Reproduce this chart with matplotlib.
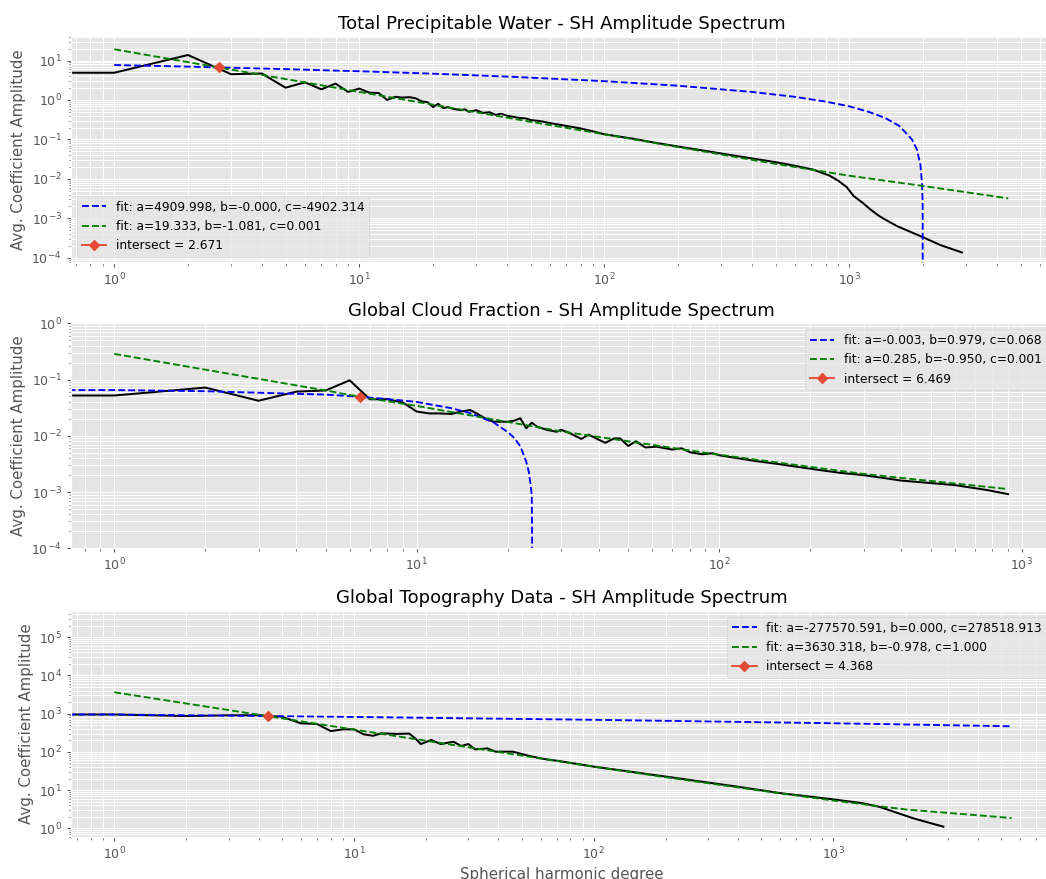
import matplotlib
matplotlib.use("Agg")
import matplotlib.pyplot as plt

plt.style.use("ggplot")

# ---- Total Precipitable Water ----
tpw_deg = [0, 1, 2, 3, 4, 5, 6, 7, 8, 9, 10, 11, 12, 13, 14, 15, 16, 17, 18, 19, 20,
           21, 22, 23, 24, 26, 27, 28, 30, 32, 34, 36, 38, 40, 43, 45, 48, 50, 55, 60,
           70, 80, 90, 100, 130, 160, 200, 250, 300, 400, 500, 600, 710, 830, 900, 975,
           1040, 1140, 1215, 1335, 1560, 2000, 2350, 2880]
tpw_amp = [4.9, 4.9, 13.8, 4.5, 4.7, 2.05, 2.8, 1.86, 2.6, 1.6, 1.95, 1.53, 1.5, 1.0,
           1.2, 1.15, 1.18, 1.1, 0.92, 0.88, 0.66, 0.80, 0.62, 0.66, 0.60, 0.55, 0.58,
           0.50, 0.55, 0.47, 0.49, 0.42, 0.45, 0.40, 0.37, 0.35, 0.34, 0.31, 0.29, 0.26,
           0.22, 0.19, 0.16, 0.135, 0.105, 0.083, 0.066, 0.053, 0.044, 0.033, 0.0265,
           0.0215, 0.0172, 0.0121, 0.0090, 0.0062, 0.0037, 0.0024, 0.0017, 0.0011,
           0.00064, 0.00033, 0.00021, 0.000136]
tpw_fit1_x = [1, 2, 5, 10, 20, 45, 100, 200, 400, 600, 800, 1000, 1200, 1400, 1600,
              1800, 1884, 1950, 1980, 1992, 1996]
tpw_fit1_y = [7.7, 7.0, 6.05, 5.35, 4.65, 3.8, 3.0, 2.3, 1.6, 1.2, 0.91, 0.69, 0.5,
              0.35, 0.22, 0.1, 0.057, 0.023, 0.0075, 0.0025, 1e-7]
tpw_fit2_x = [1, 2, 5, 10, 20, 50, 100, 200, 500, 1000, 2000, 4450]
tpw_fit2_y = [19.3, 9.1, 3.4, 1.6, 0.76, 0.28, 0.135, 0.064, 0.024, 0.012, 0.0066, 0.0032]
tpw_cross = (2.671, 6.75)

# ---- Global Cloud Fraction ----
gcf_deg = [0, 1, 2, 3, 4, 5, 6, 7, 8, 9, 10, 11, 12, 13, 14, 15, 16, 17, 18, 19, 20,
           21, 22, 23, 24, 25, 27, 29, 30, 32, 35, 37, 40, 42, 45, 47, 50, 53, 57, 62,
           70, 75, 80, 88, 95, 100, 130, 160, 200, 250, 300, 400, 600, 765, 900]
gcf_amp = [0.052, 0.052, 0.072, 0.042, 0.061, 0.064, 0.097, 0.0446, 0.0446, 0.039,
           0.027, 0.025, 0.025, 0.0244, 0.027, 0.0288, 0.024, 0.0197, 0.0178, 0.0178,
           0.0178, 0.0186, 0.0205, 0.0136, 0.0171, 0.0145, 0.0127, 0.0118, 0.0128,
           0.0112, 0.0088, 0.0105, 0.0085, 0.0075, 0.0090, 0.0090, 0.0066, 0.0080,
           0.0062, 0.0064, 0.0057, 0.0060, 0.0051, 0.0047, 0.0049, 0.0045, 0.0036,
           0.0031, 0.0026, 0.0022, 0.0020, 0.0016, 0.00133, 0.00109, 0.00092]
gcf_fit1_x = [0, 1, 2, 5, 6.469, 8, 10, 13, 15, 18, 20, 21, 22, 23, 23.5, 24, 24.3]
gcf_fit1_y = [0.068, 0.065, 0.062, 0.054, 0.0495, 0.045, 0.040, 0.031, 0.0254, 0.0171,
              0.0116, 0.0092, 0.0065, 0.0035, 0.0022, 0.0009, 1e-7]
gcf_fit2_x = [1, 2, 5, 6.469, 10, 30, 100, 300, 900]
gcf_fit2_y = [0.286, 0.15, 0.064, 0.0494, 0.034, 0.012, 0.0046, 0.0021, 0.00113]
gcf_cross = (6.469, 0.0495)

# ---- Global Topography ----
topo_deg = [0, 1, 2, 3, 4, 5, 6, 7, 8, 9, 10, 11, 12, 13, 15, 17, 18, 19, 21, 23, 26,
            28, 30, 32, 36, 39, 46, 54, 62, 71, 100, 200, 400, 600, 1000, 1330, 1565,
            1835, 2155, 2500, 2875]
topo_amp = [950, 950, 865, 905, 910, 830, 557, 537, 350, 388, 388, 287, 263, 305, 295,
            300, 225, 160, 204, 160, 184, 142, 160, 116, 123, 101, 101, 78, 65, 58, 41,
            22.5, 12.2, 8.3, 5.7, 4.5, 3.6, 2.55, 1.82, 1.4, 1.1]
topo_fit1_x = [0, 1, 4.368, 10, 100, 1000, 5540]
topo_fit1_y = [278519, 948, 865, 820, 690, 560, 466]
topo_fit2_x = [1, 2, 4.368, 10, 20, 50, 100, 200, 500, 1000, 2000, 5540]
topo_fit2_y = [3630, 1840, 860, 383, 195, 80, 41, 21.6, 9.6, 5.3, 3.1, 1.85]
topo_cross = (4.368, 862)

panels = [
    dict(title="Total Precipitable Water - SH Amplitude Spectrum",
         deg=tpw_deg, amp=tpw_amp, f1=(tpw_fit1_x, tpw_fit1_y), f2=(tpw_fit2_x, tpw_fit2_y),
         cross=tpw_cross,
         l1="fit: a=4909.998, b=-0.000, c=-4902.314",
         l2="fit: a=19.333, b=-1.081, c=0.001",
         l3="intersect = 2.671",
         rect=[0.0674, 0.7008, 0.9393, 0.2582],
         xlim=(0.663, 6780), ylim=(7.35e-5, 41.8), loc="lower left"),
    dict(title="Global Cloud Fraction - SH Amplitude Spectrum",
         deg=gcf_deg, amp=gcf_amp, f1=(gcf_fit1_x, gcf_fit1_y), f2=(gcf_fit2_x, gcf_fit2_y),
         cross=gcf_cross,
         l1="fit: a=-0.003, b=0.979, c=0.068",
         l2="fit: a=0.285, b=-0.950, c=0.001",
         l3="intersect = 6.469",
         rect=[0.0674, 0.3762, 0.9393, 0.256],
         xlim=(0.717, 1268), ylim=(1e-4, 1), loc="upper right"),
    dict(title="Global Topography Data - SH Amplitude Spectrum",
         deg=topo_deg, amp=topo_amp, f1=(topo_fit1_x, topo_fit1_y), f2=(topo_fit2_x, topo_fit2_y),
         cross=topo_cross,
         l1="fit: a=-277570.591, b=0.000, c=278518.913",
         l2="fit: a=3630.318, b=-0.978, c=1.000",
         l3="intersect = 4.368",
         rect=[0.0674, 0.0481, 0.9393, 0.2571],
         xlim=(0.657, 8240), ylim=(0.60, 4.94e5), loc="upper right"),
]

fig = plt.figure(figsize=(1046 / 90, 879 / 90), dpi=90)

for i, p in enumerate(panels):
    ax = fig.add_axes(p["rect"])
    ax.set_xscale("log", nonpositive="clip")
    ax.set_yscale("log", nonpositive="clip")
    ax.plot(p["deg"], p["amp"], color="k", lw=1.6)
    ax.plot(p["f1"][0], p["f1"][1], "b--", label=p["l1"])
    ax.plot(p["f2"][0], p["f2"][1], "g--", label=p["l2"])
    ax.plot([p["cross"][0]], [p["cross"][1]], marker="D", color="#E24A33", label=p["l3"])
    ax.set_xlim(*p["xlim"])
    ax.set_ylim(*p["ylim"])
    ax.grid(True, which="both")
    ax.set_title(p["title"])
    ax.set_ylabel("Avg. Coefficient Amplitude")
    ax.legend(loc=p["loc"], fontsize=9.8)
    if i == 2:
        ax.set_xlabel("Spherical harmonic degree")

fig.savefig("out.png", dpi=90)
